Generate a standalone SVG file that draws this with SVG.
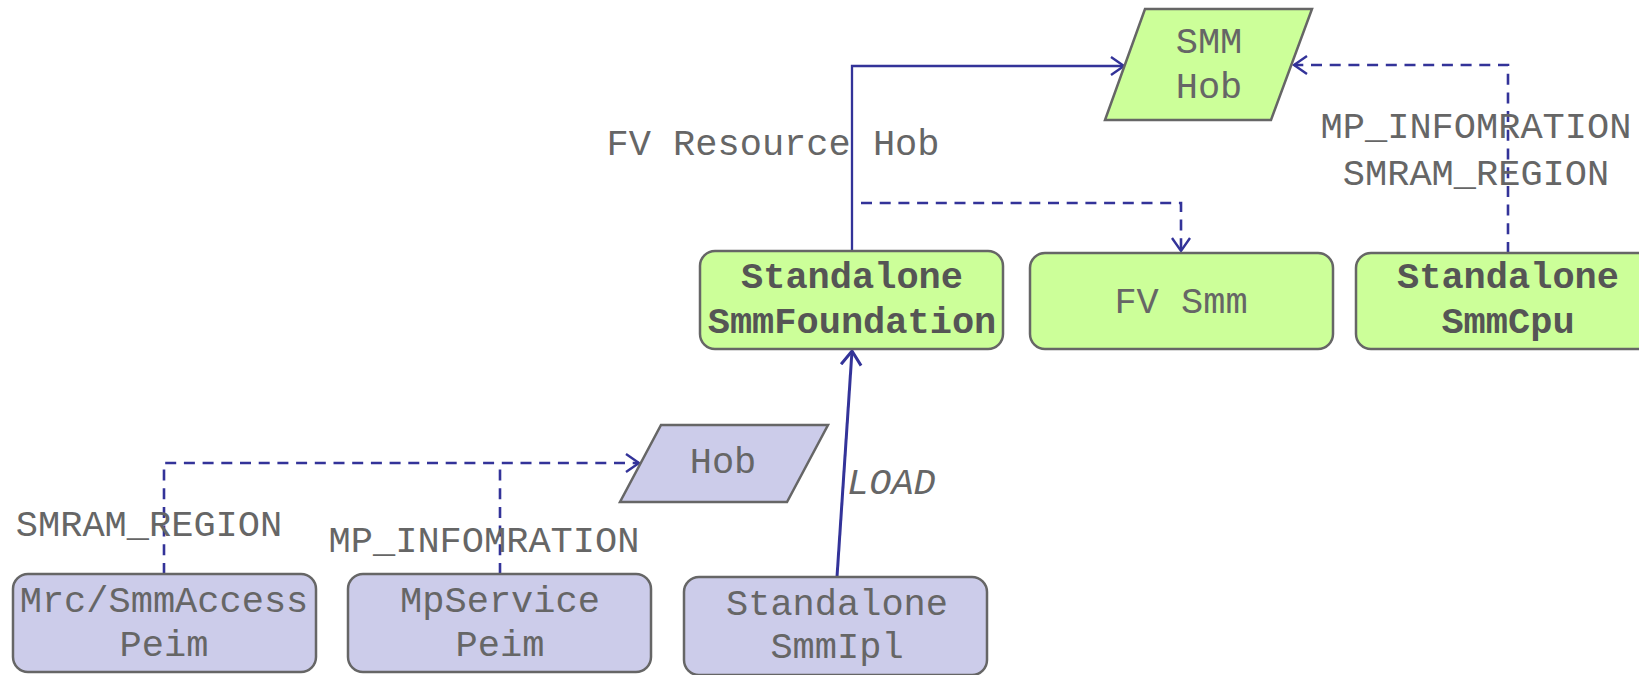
<svg xmlns="http://www.w3.org/2000/svg" width="1639" height="675" viewBox="0 0 1639 675">
  <style>
    .green { fill: #ccff99; stroke: #666666; stroke-width: 2.5; }
    .purple { fill: #ccccea; stroke: #666666; stroke-width: 2.5; }
    text { font-family: "Liberation Mono", "Courier New", monospace; font-size: 37px; fill: #666666; text-anchor: middle; }
    .bold { font-weight: bold; fill: #555555; }
    .lbl { text-anchor: start; }
    .link { fill: none; stroke: #333399; stroke-width: 2.3; }
    .dash { stroke-width: 2.6; stroke-dasharray: 11 7.7; }
    .load { stroke-width: 3; }
  </style>
  <defs>
    <marker id="open" markerUnits="userSpaceOnUse" markerWidth="30" markerHeight="30" viewBox="-15 -15 30 30" refX="0" refY="0" orient="auto">
      <path d="M-13,-9 L0,0 L-13,9" fill="none" stroke="#333399" stroke-width="2.4"/>
    </marker>
    <marker id="openBig" markerUnits="userSpaceOnUse" markerWidth="30" markerHeight="30" viewBox="-15 -15 30 30" refX="0" refY="0" orient="auto">
      <path d="M-14,-10 L0,0 L-14,10" fill="none" stroke="#333399" stroke-width="3"/>
    </marker>
  </defs>

  <!-- connectors -->
  <g id="connectors">
    <path class="link" d="M852,251 V66 H1124" marker-end="url(#open)"/>
    <path class="link dash" d="M861,203 H1181 V251" marker-end="url(#open)"/>
    <path class="link dash" d="M1508,253 V65 H1294" marker-end="url(#open)"/>
    <path class="link dash" d="M164,574 V463 H639" marker-end="url(#open)"/>
    <path class="link dash" d="M500,574 V463"/>
    <path class="link load" d="M837,577 L852,351" marker-end="url(#openBig)"/>
  </g>

  <!-- connector labels -->
  <g id="labels">
    <text x="773" y="155">FV Resource Hob</text>
    <text x="1476" y="138">MP_INFOMRATION</text>
    <text x="1476" y="185">SMRAM_REGION</text>
    <text x="149" y="536">SMRAM_REGION</text>
    <text x="484" y="552">MP_INFOMRATION</text>
    <text class="lbl" x="847" y="494" font-style="italic">LOAD</text>
  </g>

  <g id="smm-hob">
    <polygon class="green" points="1145,9 1312,9 1271,120 1105,120"/>
    <text x="1209" y="53">SMM</text>
    <text x="1209" y="98">Hob</text>
  </g>

  <g id="smm-foundation">
    <rect class="green" x="700" y="251" width="303" height="98" rx="15"/>
    <text class="bold" x="852" y="288">Standalone</text>
    <text class="bold" x="852" y="333">SmmFoundation</text>
  </g>

  <g id="fv-smm">
    <rect class="green" x="1030" y="253" width="303" height="96" rx="15"/>
    <text x="1181" y="313">FV Smm</text>
  </g>

  <g id="smm-cpu">
    <rect class="green" x="1356" y="253" width="304" height="96" rx="15"/>
    <text class="bold" x="1508" y="288">Standalone</text>
    <text class="bold" x="1508" y="333">SmmCpu</text>
  </g>

  <g id="hob">
    <polygon class="purple" points="661,425 828,425 787,502 620,502"/>
    <text x="723" y="473">Hob</text>
  </g>

  <g id="smm-access">
    <rect class="purple" x="13" y="574" width="303" height="98" rx="15"/>
    <text x="164" y="612">Mrc/SmmAccess</text>
    <text x="164" y="656">Peim</text>
  </g>

  <g id="mp-service">
    <rect class="purple" x="348" y="574" width="303" height="98" rx="15"/>
    <text x="500" y="612">MpService</text>
    <text x="500" y="656">Peim</text>
  </g>

  <g id="smm-ipl">
    <rect class="purple" x="684" y="577" width="303" height="98" rx="15"/>
    <text x="837" y="615">Standalone</text>
    <text x="837" y="658">SmmIpl</text>
  </g>
</svg>
